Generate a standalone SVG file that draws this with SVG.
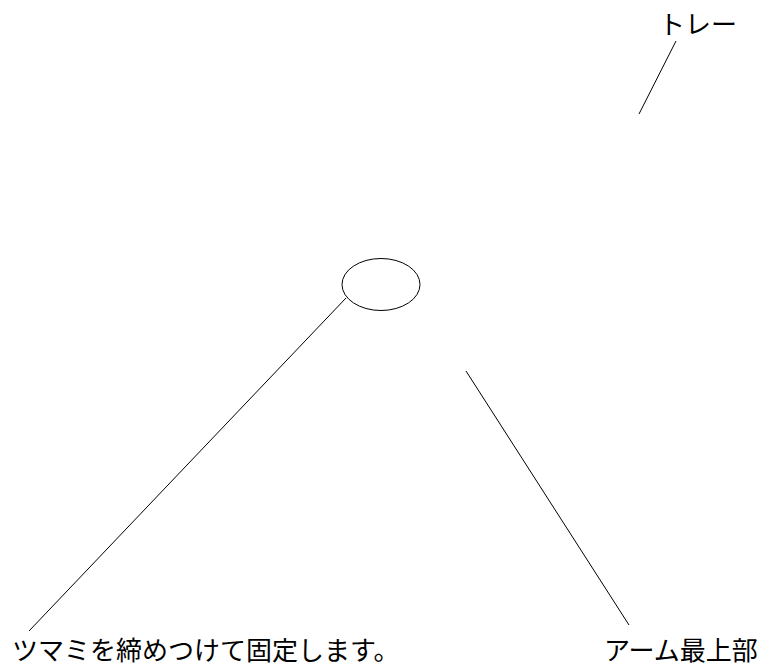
<svg xmlns="http://www.w3.org/2000/svg" width="768" height="669" viewBox="0 0 768 669">
<style>
.lbl{font-family:"Noto Sans CJK JP","Noto Sans CJK SC",sans-serif;font-size:26px;fill:#000}
.ln{stroke:#000;stroke-width:1;fill:none}
</style>
<rect width="768" height="669" fill="#fff"/>
<g id="knob"><ellipse class="ln" cx="381" cy="284.5" rx="39" ry="26"/></g>
<g id="connectors">
<line class="ln" x1="676" y1="41" x2="639" y2="114"/>
<line class="ln" x1="346" y1="298" x2="29" y2="631"/>
<line class="ln" x1="466" y1="371" x2="629" y2="625"/>
</g>
<g id="label-tray"><text class="lbl" x="659" y="34">トレー</text></g>
<g id="label-knob"><text class="lbl" x="12" y="660">ツマミを締めつけて固定します。</text></g>
<g id="label-arm"><text class="lbl" x="604" y="660">アーム最上部</text></g>
</svg>
